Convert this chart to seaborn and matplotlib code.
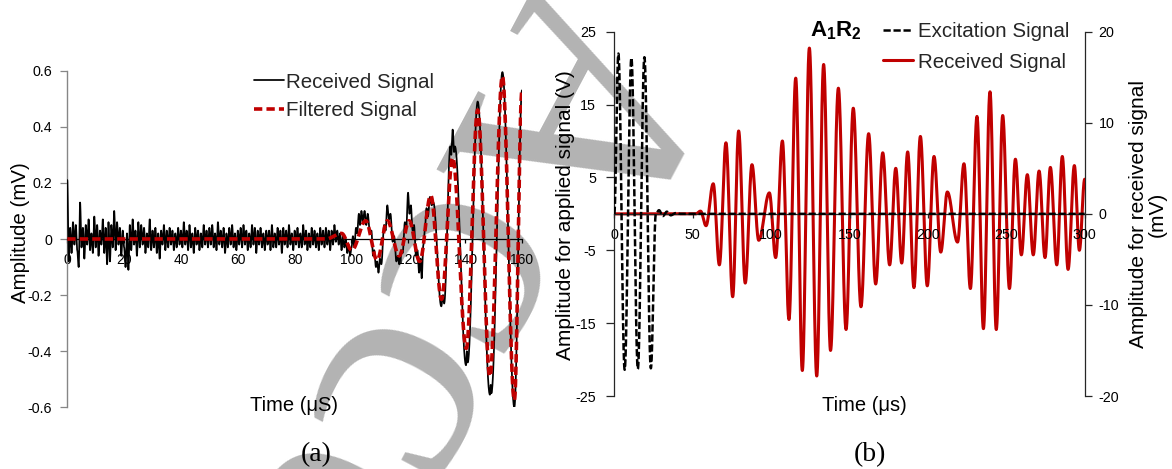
import numpy as np
import matplotlib
matplotlib.use("Agg")
import matplotlib.pyplot as plt
from matplotlib.lines import Line2D
from matplotlib.textpath import TextPath
from matplotlib.font_manager import FontProperties
import seaborn as sns

# ---------------------------------------------------------------- data
# (a) received signal: noise floor sampled every 0.5 us from t = 0 to 100 us (mV)
noise_v = [
    0.21, -0.08, 0.04, -0.05, 0.06, -0.02, 0.05, -0.04, -0.10, 0.13,
    -0.03, 0.04, -0.07, 0.05, -0.02, 0.07, -0.04, 0.02, -0.05, 0.08, -0.03,
    0.05, -0.06, 0.03, -0.02, 0.07, -0.05, 0.04, -0.09, 0.06, -0.08,
    0.05, -0.03, 0.10, -0.04, 0.06, -0.02, 0.04, -0.06, 0.03, -0.03,
    -0.10, 0.02, -0.11, 0.05, -0.04, 0.07, -0.02, 0.03, -0.06, 0.06,
    -0.03, 0.05, -0.02, 0.04, -0.05, 0.02, -0.03, 0.07, -0.04, 0.03,
    -0.03, 0.04, -0.05, 0.02, -0.07, 0.03, -0.02, 0.05, -0.04, 0.03,
    -0.03, 0.04, -0.02, 0.03, -0.04, 0.02, -0.03, 0.04, -0.02, 0.03,
    -0.03, 0.06, -0.02, 0.03, -0.04, 0.05, -0.03, 0.02, -0.05, 0.04,
    -0.02, 0.03, -0.04, 0.02, -0.03, 0.05, -0.02, 0.03, -0.03, 0.04,
    -0.02, 0.05, -0.03, 0.02, -0.04, 0.06, -0.02, 0.03, -0.03, 0.04,
    -0.05, 0.02, -0.03, 0.04, -0.02, 0.05, -0.03, 0.02, -0.04, 0.03,
    -0.02, 0.04, -0.03, 0.05, -0.02, 0.03, -0.04, 0.02, -0.03, 0.05,
    -0.02, 0.04, -0.05, 0.03, -0.02, 0.04, -0.03, 0.02, -0.04, 0.03,
    -0.02, 0.03, -0.04, 0.05, -0.03, 0.02, -0.03, 0.04, -0.02, 0.03,
    -0.05, 0.04, -0.02, 0.03, -0.03, 0.05, -0.02, 0.02, -0.04, 0.03,
    -0.02, 0.04, -0.03, 0.02, -0.03, 0.05, -0.02, 0.03, -0.04, 0.02,
    -0.03, 0.04, -0.02, 0.03, -0.03, 0.02, -0.04, 0.04, -0.02, 0.03,
    -0.03, 0.04, -0.02, 0.03, -0.04, 0.03, -0.02, 0.05, -0.01, 0.03,
    -0.02, 0.02, -0.04, 0.01, -0.03, 0.00, -0.05, -0.02, -0.06, -0.03,
]
noise_step = 0.5

# (a) received signal after 100 us: turning points (us, mV)
burst = [
    (100.5, 0.01), (101.0, -0.03), (101.6, 0.04), (102.0, 0.02), (102.6, 0.09),
    (103.0, 0.05), (103.5, 0.10), (104.0, 0.06), (104.6, 0.10), (105.2, 0.05),
    (105.7, 0.09), (106.5, 0.02), (107.0, 0.03), (107.6, -0.06), (108.0, -0.04),
    (108.6, -0.10), (109.0, -0.08), (109.5, -0.12), (110.0, -0.07), (110.5, -0.09),
    (111.5, 0.05), (112.0, 0.03), (112.6, 0.12), (113.2, 0.07), (113.7, 0.09),
    (114.5, -0.01), (115.0, 0.01), (115.8, -0.08), (116.3, -0.06), (116.8, -0.09),
    (117.5, -0.04), (118.0, -0.05), (118.8, 0.06), (119.3, 0.04), (119.9, 0.165),
    (120.4, 0.09), (120.9, 0.12), (121.5, 0.03), (122.0, 0.05), (122.7, -0.06),
    (123.2, -0.04), (123.8, -0.12), (124.3, -0.07), (124.7, -0.14), (125.3, -0.02),
    (125.8, 0.03), (126.4, 0.11), (126.9, 0.08), (127.6, 0.15), (128.2, 0.12),
    (128.8, 0.13), (131.6, -0.24), (132.2, -0.20), (132.6, -0.23), (134.8, 0.33),
    (135.1, 0.30), (135.6, 0.39), (136.1, 0.31), (136.4, 0.33), (140.3, -0.45),
    (140.6, -0.40), (140.9, -0.44), (144.4, 0.49), (148.7, -0.555), (149.0, -0.52),
    (149.2, -0.55), (153.1, 0.595), (157.3, -0.60), (160.0, 0.53),
]

# (a) filtered signal: turning points (us, mV)
filtered = [
    (0.0, 0.0), (91.0, 0.0), (96.5, 0.02), (100.1, -0.04), (105.0, 0.065),
    (109.0, -0.075), (112.6, 0.065), (116.8, -0.06), (120.3, 0.065), (124.0, -0.08),
    (127.9, 0.155), (131.7, -0.215), (135.6, 0.29), (140.4, -0.39), (144.4, 0.46),
    (148.7, -0.49), (153.1, 0.58), (157.3, -0.575), (160.0, 0.53),
]

# (b) excitation signal: turning points (us, V)
excitation = [
    (0.0, 0.0), (2.6, 22.0), (6.6, -21.4), (10.9, 21.4), (15.0, -21.3),
    (19.2, 21.5), (23.3, -21.2), (26.5, 0.0), (28.5, 0.5), (31.0, -0.3),
    (33.5, 0.3), (36.0, -0.2), (39.0, 0.1), (42.0, 0.0), (300.0, 0.0),
]

# (b) received signal: turning points (us, mV)
received_b = [
    (0.0, 0.0), (52.0, 0.0), (55.0, 0.3), (58.5, -1.3), (63.1, 3.3),
    (67.0, -5.6), (71.2, 7.8), (75.5, -9.1), (79.3, 9.1), (83.5, -7.6),
    (87.8, 5.4), (92.1, -2.9), (98.9, 2.3), (102.9, -4.8), (107.2, 8.0),
    (111.4, -11.6), (115.7, 14.9), (119.9, -17.2), (124.4, 18.2), (129.1, -17.8),
    (133.5, 16.4), (137.9, -15.0), (142.9, 13.8), (147.8, -12.7), (152.4, 11.6),
    (157.3, -10.2), (162.2, 8.8), (166.7, -7.7), (171.2, 6.7), (175.6, -5.6),
    (179.5, 5.0), (183.3, -5.4), (187.1, 6.8), (191.1, -8.1), (195.2, 8.5),
    (199.6, -7.9), (203.9, 6.3), (208.2, -4.2), (212.4, 2.4), (218.9, -3.1),
    (223.0, 5.5), (227.1, -8.2), (231.3, 10.7), (235.4, -12.6), (239.6, 13.4),
    (243.6, -12.7), (247.7, 10.8), (252.0, -8.2), (255.8, 6.0), (259.6, -4.5),
    (263.4, 4.3), (267.2, -4.5), (270.9, 4.7), (274.7, -4.8), (278.1, 5.1),
    (282.2, -5.6), (285.7, 6.3), (289.4, -6.1), (293.4, 5.3), (296.6, -4.0),
    (300.0, 3.8),
]

a_xticks = [0, 20, 40, 60, 80, 100, 120, 140, 160]
a_yticks = [-0.6, -0.4, -0.2, 0.0, 0.2, 0.4, 0.6]
a_ylabels = ["-0.6", "-0.4", "-0.2", "0", "0.2", "0.4", "0.6"]
b_xticks = [0, 50, 100, 150, 200, 250, 300]
b_yticks_left = [-25, -15, -5, 5, 15, 25]
b_yticks_right = [-20, -10, 0, 10, 20]

# ---------------------------------------------------------------- style
sns.set_theme(style="white")
plt.rcParams["font.family"] = ["Liberation Sans", "DejaVu Sans"]
plt.rcParams["mathtext.fontset"] = "custom"
plt.rcParams["mathtext.rm"] = "Liberation Sans"
plt.rcParams["mathtext.bf"] = "Liberation Sans:bold"
plt.rcParams["mathtext.it"] = "Liberation Sans:italic"

RED = "#c00000"
W, H = 1172, 469
DPI = 100


def stroke(points, step=0.05):
    """Waveform drawn as half-cosine strokes between successive turning points."""
    t_pts = [p[0] for p in points]
    v_pts = [p[1] for p in points]
    ts, vs = [], []
    for i in range(len(t_pts) - 1):
        t0, t1 = t_pts[i], t_pts[i + 1]
        n = max(int(np.ceil((t1 - t0) / step)), 1)
        s = np.linspace(0.0, 1.0, n, endpoint=False)
        ts.append(t0 + (t1 - t0) * s)
        vs.append(v_pts[i] + (v_pts[i + 1] - v_pts[i]) * (1 - np.cos(np.pi * s)) / 2)
    ts.append([t_pts[-1]])
    vs.append([v_pts[-1]])
    return np.concatenate(ts), np.concatenate(vs)


def px_box(left, right, top, bottom):
    return [left / W, 1 - bottom / H, (right - left) / W, (bottom - top) / H]


fig = plt.figure(figsize=(W / DPI, H / DPI), dpi=DPI)
fig.patch.set_facecolor("white")

# ---------------------------------------------------------------- watermark
# large grey serif text running diagonally behind both panels; it is placed so
# that the centre of its first "c" sits at a chosen pixel position
wm_text = "Accepted Manuscript"
wm_em = 320.0          # em size in pixels
wm_angle = -118.0      # reading direction, degrees
wm_c_centre = (466.0, H - 268.0)
wm_font = FontProperties(family="Liberation Serif")
ext_ac = TextPath((0, 0), "Ac", size=wm_em, prop=wm_font).get_extents()
ext_c = TextPath((0, 0), "c", size=wm_em, prop=wm_font).get_extents()
cx = ext_ac.x1 - ext_c.width / 2
cy = (ext_c.y0 + ext_c.y1) / 2
th = np.deg2rad(wm_angle)
ox = wm_c_centre[0] - (cx * np.cos(th) - cy * np.sin(th))
oy = wm_c_centre[1] - (cx * np.sin(th) + cy * np.cos(th))
fig.text(ox / W, oy / H, wm_text, rotation=wm_angle, rotation_mode="anchor",
         ha="left", va="baseline", fontsize=wm_em * 72 / DPI,
         family="Liberation Serif", color="#b3b3b3", zorder=-5)

# ---------------------------------------------------------------- panel (a)
ax_a = fig.add_axes(px_box(67.3, 522.0, 70.7, 407.3))
ax_a.patch.set_visible(False)

noise_pts = [(i * noise_step, v) for i, v in enumerate(noise_v)]
t_rx, v_rx = stroke(noise_pts + burst, step=0.05)
t_f, v_f = stroke(filtered, step=0.05)

sns.lineplot(x=t_rx, y=v_rx, ax=ax_a, color="black", linewidth=1.25,
             sort=False, estimator=None, zorder=3)
sns.lineplot(x=t_f, y=v_f, ax=ax_a, color=RED, linewidth=2.6,
             sort=False, estimator=None, zorder=4)
ax_a.lines[-1].set_dashes([2.3, 1.15])

ax_a.set_xlim(0, 160)
ax_a.set_ylim(-0.6, 0.6)
ax_a.set_xticks(a_xticks)
ax_a.set_xticklabels([str(v) for v in a_xticks])
ax_a.set_yticks(a_yticks)
ax_a.set_yticklabels(a_ylabels)
ax_a.set_xlabel("")
ax_a.set_ylabel("")
for side in ("top", "right"):
    ax_a.spines[side].set_visible(False)
ax_a.spines["left"].set_color("#868686")
ax_a.spines["left"].set_linewidth(1.0)
ax_a.spines["bottom"].set_position(("data", 0))
ax_a.spines["bottom"].set_color("black")
ax_a.spines["bottom"].set_linewidth(0.9)
ax_a.tick_params(axis="y", direction="out", length=5, width=0.9, color="#868686",
                 pad=6, labelsize=10.3, labelcolor="black", left=True)
ax_a.tick_params(axis="x", direction="out", length=3, width=0.9, color="black",
                 pad=7, labelsize=10, labelcolor="black", bottom=True)

leg_a = [Line2D([], [], color="black", linewidth=1.25),
         Line2D([], [], color=RED, linewidth=2.6, dashes=[2.3, 1.15])]
ax_a.legend(leg_a, ["Received Signal", "Filtered Signal"], loc="upper left",
            bbox_to_anchor=(253.8 / W, 1 - 72.6 / H), bbox_transform=fig.transFigure,
            frameon=False, fontsize=14.8, handlelength=1.46, handletextpad=0.12,
            labelspacing=0.48, borderpad=0, borderaxespad=0)

fig.text(20.5 / W, 1 - 232.5 / H, "Amplitude (mV)", rotation=90, ha="center",
         va="center", fontsize=14.8, color="black")
fig.text(293.6 / W, 1 - 405 / H, "Time (\u03bcS)", ha="center", va="center",
         fontsize=14.5, color="black")
fig.text(316 / W, 1 - 455 / H, "(a)", ha="center", va="center", fontsize=20,
         family="Liberation Serif", color="black")

# ---------------------------------------------------------------- panel (b)
ax_b = fig.add_axes(px_box(614.3, 1084.7, 31.7, 396.0))
ax_r = ax_b.twinx()
ax_b.set_zorder(ax_r.get_zorder() + 1)
ax_b.patch.set_visible(False)
ax_r.patch.set_visible(False)

t_ex, v_ex = stroke(excitation, step=0.02)
t_rb, v_rb = stroke(received_b, step=0.05)

sns.lineplot(x=t_rb, y=v_rb, ax=ax_r, color=RED, linewidth=2.2,
             sort=False, estimator=None, zorder=3)
sns.lineplot(x=t_ex, y=v_ex, ax=ax_b, color="black", linewidth=1.8,
             sort=False, estimator=None, zorder=3)
ax_b.lines[-1].set_dashes([2.9, 1.1])

ax_b.set_xlim(0, 300)
ax_b.set_ylim(-25, 25)
ax_r.set_ylim(-20, 20)
ax_b.set_xticks(b_xticks)
ax_b.set_xticklabels([str(v) for v in b_xticks])
ax_b.set_yticks(b_yticks_left)
ax_b.set_yticklabels([str(v) for v in b_yticks_left])
ax_r.set_yticks(b_yticks_right)
ax_r.set_yticklabels([str(v) for v in b_yticks_right])
for a in (ax_b, ax_r):
    a.set_xlabel("")
    a.set_ylabel("")

for side in ("top", "right"):
    ax_b.spines[side].set_visible(False)
for side in ("top", "left", "bottom"):
    ax_r.spines[side].set_visible(False)
ax_b.spines["bottom"].set_position(("data", 0))
for sp in (ax_b.spines["bottom"], ax_b.spines["left"], ax_r.spines["right"]):
    sp.set_color("#262626")
    sp.set_linewidth(0.9)
ax_b.tick_params(axis="y", direction="out", length=6, width=0.9, color="#262626",
                 pad=7, labelsize=10.3, labelcolor="black", left=True)
ax_b.tick_params(axis="x", direction="out", length=3, width=0.9, color="#262626",
                 pad=7, labelsize=10.3, labelcolor="black", bottom=True)
ax_r.tick_params(axis="y", direction="out", length=5, width=0.9, color="#262626",
                 pad=5, labelsize=10.3, labelcolor="black", right=True)

leg_b = [Line2D([], [], color="black", linewidth=1.8, dashes=[2.9, 1.1]),
         Line2D([], [], color=RED, linewidth=2.2)]
ax_b.legend(leg_b, ["Excitation Signal", "Received Signal"], loc="upper left",
            bbox_to_anchor=(882.7 / W, 1 - 21.8 / H), bbox_transform=fig.transFigure,
            frameon=False, fontsize=14.8, handlelength=1.46, handletextpad=0.27,
            labelspacing=0.57, borderpad=0, borderaxespad=0)

fig.text(836 / W, 1 - 31 / H, r"$\mathbf{A_1R_2}$", ha="center", va="center",
         fontsize=16, color="black")
fig.text(565.5 / W, 1 - 215 / H, "Amplitude for applied signal (V)", rotation=90,
         ha="center", va="center", fontsize=15, color="black")
fig.text(1148 / W, 1 - 214 / H, "Amplitude for received signal\n(mV)", rotation=90,
         ha="center", va="center", multialignment="center", linespacing=1.0,
         fontsize=15, color="black")
fig.text(864 / W, 1 - 405 / H, "Time (\u03bcs)", ha="center", va="center",
         fontsize=14.5, color="black")
fig.text(870 / W, 1 - 455 / H, "(b)", ha="center", va="center", fontsize=20,
         family="Liberation Serif", color="black")

fig.savefig("out.png", dpi=DPI, facecolor="white")
